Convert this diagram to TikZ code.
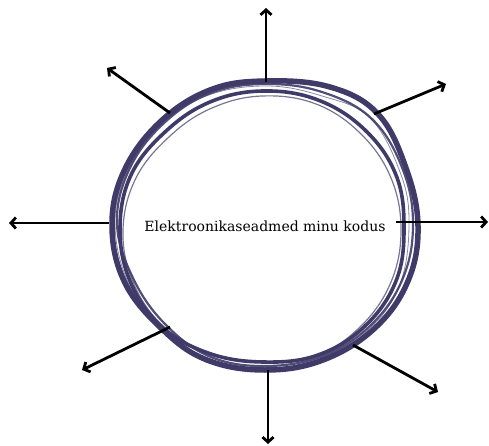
\documentclass[tikz,border=0pt]{standalone}
\usepackage{fontspec}
\setmainfont{DejaVu Serif}
\usetikzlibrary{arrows.meta}
\definecolor{ink}{HTML}{3F3A68}
\begin{document}
\begin{tikzpicture}[x=1pt,y=-1pt,
  arr/.style={line width=2.8pt,-{Straight Barb[length=5pt,width=11pt]}},
  ring/.style={draw=ink,line join=round,line cap=round},
  label/.style={font=\fontsize{14}{17}\selectfont,inner sep=0pt}]
\useasboundingbox (0,0) rectangle (489,446);
% hand-drawn ring strokes
\draw[ring,line width=5.5pt] plot[smooth cycle,tension=0.65] coordinates {
 (418,226) (408,281) (375,328) (323,360) (265,370) (207,360) (163,330) (125,283)
 (112,226) (124,171) (160,122) (210,90) (265,81) (330,87) (378,114) (406,168)};
\draw[ring,line width=3.6pt] plot[smooth cycle,tension=0.65] coordinates {
 (404,228) (396,281) (365,326) (318,355) (263,362) (208,353) (161,326) (130,281)
 (120,228) (131,175) (165,132) (210,102) (263,91) (318,100) (365,130) (396,175)};
\draw[ring,line width=2.2pt,opacity=0.9] plot[smooth cycle,tension=0.65] coordinates {
 (413,224) (403,278) (372,324) (325,355) (268,366) (211,357) (165,324) (133,278)
 (117,224) (129,170) (163,124) (211,93) (268,84) (325,93) (373,120) (403,170)};
\draw[ring,line width=1.2pt,opacity=0.7] plot[smooth cycle,tension=0.65] coordinates {
 (401,230) (391,282) (361,326) (316,356) (262,362) (208,352) (163,326) (133,282)
 (123,230) (136,178) (170,136) (212,108) (262,96) (316,104) (361,134) (391,178)};
\draw[ring,line width=0.8pt,opacity=0.6] plot[smooth cycle,tension=0.65] coordinates {
 (409,222) (400,284) (368,330) (320,358) (266,368) (205,358) (160,328) (127,280)
 (115,222) (127,172) (158,127) (206,96) (266,86) (322,96) (370,118) (400,172)};
% centre label
\node[label] (t) at (265,226) {Elektroonikaseadmed minu kodus};
% arrow start and end points
\coordinate (s1) at (266,82);  \coordinate (e1) at (266,8);
\coordinate (s2) at (170,113); \coordinate (e2) at (107,68);
\coordinate (s3) at (374,114); \coordinate (e3) at (446,84);
\coordinate (s4) at (109,223); \coordinate (e4) at (9,223);
\coordinate (s5) at (396,222); \coordinate (e5) at (488,222);
\coordinate (s6) at (170,327); \coordinate (e6) at (82,370);
\coordinate (s7) at (268,370); \coordinate (e7) at (268,444);
\coordinate (s8) at (353,345); \coordinate (e8) at (438,392);
\foreach \i in {1,...,8} {\draw[arr] (s\i) -- (e\i);}
\end{tikzpicture}
\end{document}
